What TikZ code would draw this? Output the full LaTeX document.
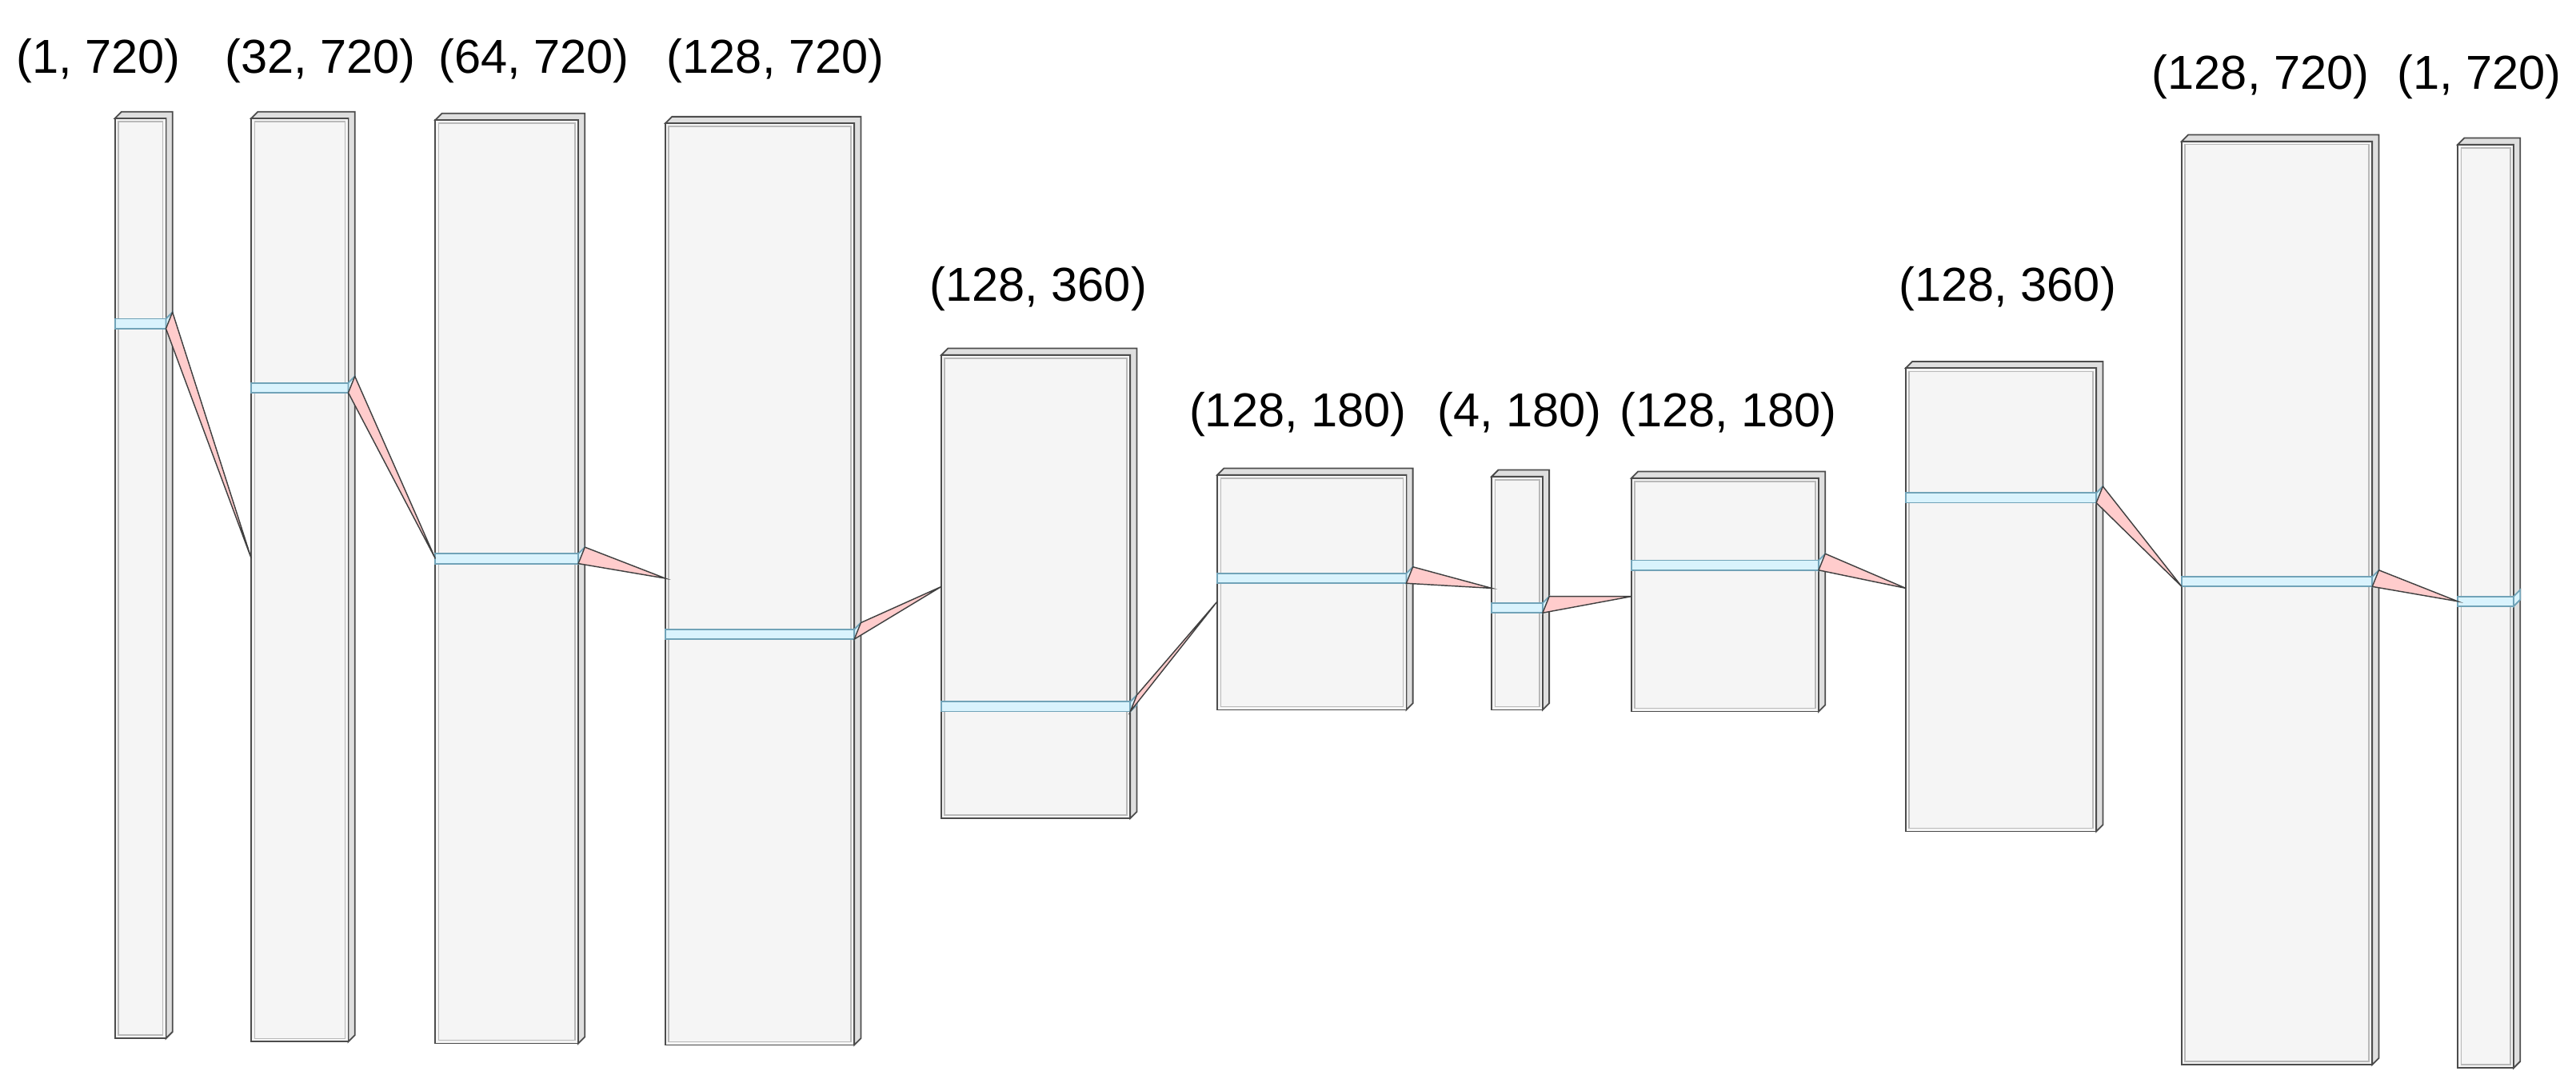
\documentclass[tikz,border=0pt]{standalone}
\usepackage{fontspec}
\setmainfont{Liberation Sans}
\usetikzlibrary{positioning}
\tikzset{
  box front/.style = {draw=black!70, fill=gray!8, line width=0.5pt},
  box side/.style = {draw=black!70, fill=gray!25, line width=0.5pt},
  box inner/.style = {draw=gray!55, line width=0.4pt},
  slice/.style = {draw=cyan!40!gray, fill=cyan!15, line width=0.5pt},
  link/.style = {draw=black!75, fill=red!20, line width=0.4pt},
  dim label/.style = {font=\fontsize{16.5pt}{18pt}\selectfont, inner sep=0pt}
}

\begin{document}
\begin{tikzpicture}[x=0.02cm, y=-0.02cm]
  \useasboundingbox (0,0) rectangle (1568,659);

  % layers: name / left / top / right / bottom / slice y / input y / label x / label y / text
  \foreach \n/\l/\t/\r/\b/\s/\iy/\lx/\ly/\txt in {
      1/70/72/101/632/197/0/60/37/{(1, 720)},
      2/153/72/212/634/236/340/195/37/{(32, 720)},
      3/265/73/352/635/340/340/325/37/{(64, 720)},
      4/405/75/520/636/386/352/472/37/{(128, 720)},
      5/573/216/688/498/430/357/632/176/{(128, 360)},
      6/741/289/856/432/352/366/790/252/{(128, 180)},
      7/908/290/939/432/370/358/925/252/{(4, 180)},
      8/993/291/1107/433/344/363/1052/252/{(128, 180)},
      9/1160/224/1276/506/303/358/1222/176/{(128, 360)},
      10/1328/86/1444/648/354/357/1376/47/{(128, 720)},
      11/1496/88/1530/650/366/366/1509/47/{(1, 720)}} {
    % depth faces
    \draw[box side] (\l,\t) -- (\l+4,\t-4) -- (\r+4,\t-4) -- (\r+4,\b-4) -- (\r,\b) -- (\r,\t) -- cycle;
    % front face
    \draw[box front] (\l,\t) rectangle (\r,\b);
    \draw[box inner] (\l+2,\t+2) rectangle (\r-2,\b-2);
    % kernel slice
    \draw[slice] (\l,\s-3) rectangle (\r,\s+3);
    \draw[slice] (\r,\s-3) -- (\r+4,\s-7) -- (\r+4,\s-1) -- (\r,\s+3) -- cycle;
    \coordinate (L\n-st) at (\r+4,\s-7);
    \coordinate (L\n-sb) at (\r,\s+3);
    \coordinate (L\n-in) at (\l,\iy);
    \node[dim label] (L\n-lbl) at (\lx,\ly) {\txt};
  }

  % connections between layers
  \foreach \a/\b in {1/2, 2/3, 3/4, 4/5, 5/6, 6/7, 7/8, 8/9, 9/10, 10/11}
    \draw[link] (L\a-st) -- (L\b-in) -- (L\a-sb) -- cycle;

\end{tikzpicture}
\end{document}
